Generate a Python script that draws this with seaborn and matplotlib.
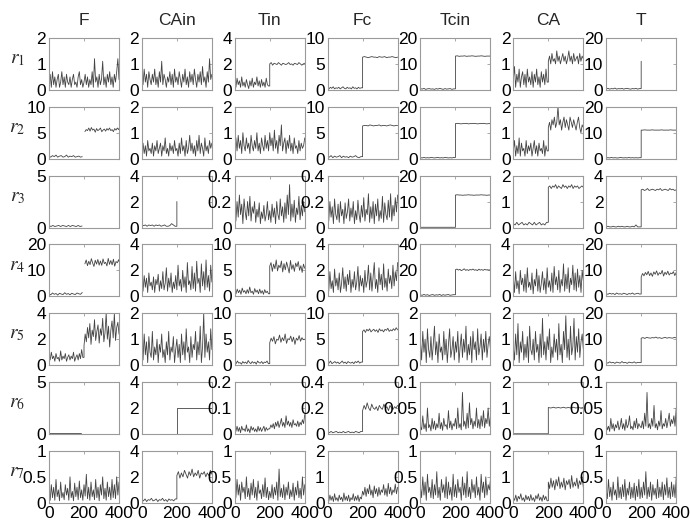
import numpy as np
import matplotlib
matplotlib.use("Agg")
import matplotlib.pyplot as plt
import seaborn as sns

# ---------------- data ----------------
cols = ["F", "CAin", "Tin", "Fc", "Tcin", "CA", "T"]
row_labels = ["$r_1$", "$r_2$", "$r_3$", "$r_4$", "$r_5$", "$r_6$", "$r_7$"]
ymax = [[2, 2, 4, 10, 20, 2, 20],
        [10, 2, 2, 10, 20, 2, 20],
        [5, 4, 0.4, 0.4, 20, 2, 4],
        [20, 4, 10, 4, 40, 4, 20],
        [4, 2, 10, 10, 2, 2, 20],
        [5, 4, 0.2, 0.4, 0.1, 2, 0.1],
        [1, 4, 1, 2, 1, 2, 1]]
x_ticks = [0, 200, 400]

# row 1
r1_F = [0.3,0.6,0.1,0.7,0.2,0.5,0.1,0.4,0.6,0.1,0.3,0.7,0.2,0.5,0.1,0.6,0.3,0.2,0.5,0.1,0.4,0.6,0.2,0.3,0.1,0.5,0.7,0.2,0.4,0.1,0.3,0.6,0.2,0.5,0.1,0.4,0.2,0.7,0.1,1.2,0.3,0.5,0.1,0.6,0.2,0.4,1.1,0.2,0.5,0.1,0.6,0.3,0.7,0.2,0.5,0.1,0.6,0.3,0.7,1.2,0.4]
r1_CAin = [0.5,0.2,0.8,0.3,0.6,0.1,0.7,0.4,0.2,0.6,0.3,0.8,0.2,0.5,0.1,0.7,0.3,1.1,0.2,0.6,0.4,0.1,0.5,0.3,0.7,0.2,0.6,0.1,0.8,0.3,0.5,0.2,0.7,0.4,0.1,0.6,0.3,0.8,0.2,0.5,0.1,0.7,0.3,0.6,0.2,0.8,0.4,0.1,0.6,0.3,0.7,0.2,0.9,0.3,0.5,0.1,0.7,0.3,1.2,0.4,0.6]
r1_Tin_a = [0.6,0.2,0.9,0.4,0.7,0.2,1.0,0.3,0.6,0.2,0.8,0.4,0.1,0.7,0.3,0.9,0.2,0.6,0.4,1.0,0.3,0.7,0.2,0.8,0.3,0.6,0.2,0.9,0.4,0.3]
r1_Tin_b = [2.0,2.1,1.9,2.05,2.0,1.95,2.1,2.0,1.9,2.05,2.0,1.95,2.0,2.1,1.95,2.0,1.9,2.05,2.0,1.95,2.1,2.0,1.9,2.0,2.05]
r1_Fc_a = [0.4,0.2,0.5,0.3,0.6,0.2,0.4,0.3,0.5,0.2,0.4,0.6,0.3,0.2,0.5,0.3,0.4,0.2,0.6,0.3,0.4,0.2,0.5,0.3,0.4]
r1_Fc_b = [6.3,6.4,6.3,6.2,6.3,6.4,6.3,6.3,6.2,6.4,6.3,6.3,6.4,6.2,6.3,6.3,6.4,6.3,6.2,6.3]
r1_Tcin_a = [0.5,0.3,0.6,0.2,0.4,0.5,0.3,0.4,0.2,0.5,0.3,0.6,0.4,0.2,0.5,0.3,0.4,0.5,0.2,0.4]
r1_Tcin_b = [13.0,13.1,12.9,13.0,13.0,13.1,12.9,13.0,13.0,13.1,13.0,12.9,13.0,13.0,13.1,13.0,12.9,13.0,13.0,13.0]
r1_CA_a = [0.4,0.9,0.1,0.6,0.3,0.8,0.1,0.5,0.7,0.2,0.6,0.1,0.8,0.3,0.5,0.2,0.7,0.1,0.6,0.3,0.8,0.2,0.5,0.1,0.7,0.3,0.6,0.2,0.8,0.3]
r1_CA_b = [1.1,1.3,1.0,1.4,1.1,1.2,1.0,1.5,1.1,1.3,1.0,1.2,1.4,1.1,1.3,1.0,1.2,1.5,1.1,1.3,1.0,1.4,1.1,1.2,1.3,1.0,1.4,1.1,1.3,1.2]
r1_T_a = [0.4,0.6,0.3,0.5,0.4,0.7,0.3,0.5,0.4,0.6,0.3,0.5,0.6,0.4,0.3,0.5,0.4,0.6,0.3,0.5]
r1_T_b = [11.0]

# row 2
r2_F_a = [0.5,0.3,0.6,0.4,0.7,0.3,0.5,0.6,0.3,0.4,0.7,0.3,0.5,0.4,0.6,0.3,0.4,0.5,0.3,0.4]
r2_F_b = [5.2,5.6,5.4,5.9,5.3,6.0,5.5,5.7,5.1,5.8,5.4,5.6,5.9,5.2,5.5,5.7,5.3,5.8,5.5,5.9,5.4,5.6,5.2,5.8,5.5,5.9,5.6,6.1]
r2_CAin = [0.3,0.6,0.2,0.5,0.1,0.7,0.3,0.4,0.2,0.6,0.1,0.5,0.3,0.7,0.2,0.4,0.6,0.1,0.5,0.3,0.8,0.2,0.4,0.1,0.6,0.3,0.5,0.2,0.7,0.3,0.4,0.1,0.6,0.2,0.8,0.3,0.5,0.1,0.7,0.2,0.4,0.9,0.3,0.6,0.2,0.5,0.1,0.7,0.3,0.9,0.2,0.6,0.4,0.1,0.8,0.3,0.5,0.2,0.7,0.4,0.6]
r2_Tin = [0.5,0.8,0.3,0.9,0.4,0.7,0.2,1.0,0.5,0.3,0.8,0.4,0.6,0.2,0.9,0.5,0.3,0.7,0.4,1.0,0.3,0.6,0.2,0.8,0.5,0.3,0.9,0.4,0.7,0.3,1.0,0.5,0.8,0.3,1.1,0.4,0.7,0.2,0.9,0.5,1.3,0.3,0.6,0.8,0.2,0.7,0.4,0.9,0.3,0.6,0.2,0.8,0.4,0.5,0.2,0.7,0.3,0.6,0.4,0.5,0.8]
r2_Fc_a = [0.4,0.3,0.6,0.2,0.5,0.3,0.4,0.6,0.2,0.5,0.3,0.4,0.2,0.5,0.3,0.4,0.6,0.3,0.2,0.4]
r2_Fc_b = [6.3,6.4,6.4,6.3,6.5,6.4,6.3,6.4,6.4,6.5,6.3,6.4,6.4,6.3,6.4,6.5,6.4,6.3,6.4,6.4]
r2_Tcin_a = [0.4,0.3,0.5,0.3,0.4,0.3,0.5,0.4,0.3,0.4,0.5,0.3,0.4,0.3,0.5,0.4,0.3,0.4,0.3,0.5]
r2_Tcin_b = [13.5,13.6,13.5,13.4,13.5,13.5,13.6,13.4,13.5,13.5,13.6,13.5,13.4,13.5,13.5,13.6,13.5,13.4,13.5,13.5]
r2_CA_a = [0.3,0.7,0.1,0.5,0.2,0.8,0.1,0.6,0.3,0.4,0.1,0.7,0.2,0.5,0.3,0.6,0.1,0.4,0.7,0.2,0.5,0.1,0.6,0.3,0.4,0.2,0.7,0.1,0.5,0.3]
r2_CA_b = [1.2,1.4,1.1,1.5,1.3,1.6,1.2,1.4,2.0,1.3,1.5,1.1,1.4,1.6,1.2,1.5,1.3,1.1,1.6,1.4,1.2,1.5,1.3,1.1,1.4,1.6,1.2,1.0,1.3,1.2]
r2_T_a = [0.3,0.4,0.3,0.5,0.3,0.4,0.3,0.3,0.5,0.4,0.3,0.4,0.3,0.5,0.3,0.4,0.3,0.4,0.3,0.4]
r2_T_b = [11.0,11.0,11.1,11.0,11.0,11.0,11.1,11.0,11.0,11.0,11.0,11.1,11.0,11.0,11.0,11.0,11.1,11.0,11.0,11.0]

# row 3
r3_F_a = [0.2,0.1,0.2,0.1,0.15,0.2,0.1,0.2,0.15,0.1,0.2,0.1,0.2,0.15,0.1,0.2,0.1,0.15]
r3_F_b = [4.95,4.9,4.95,4.95,4.9,4.95,4.95,4.9,4.95,4.95,4.9,4.95,4.95,4.9,4.95,4.95,4.9,4.95,4.95,4.9]
r3_CAin_a = [0.2,0.15,0.2,0.1,0.2,0.15,0.2,0.1,0.2,0.15,0.2,0.1,0.15,0.2,0.1,0.1,0.15,0.3,0.2,0.1]
r3_CAin_b = [2.0]
r3_Tin = [0.15,0.05,0.2,0.08,0.25,0.1,0.18,0.03,0.22,0.12,0.06,0.2,0.09,0.24,0.05,0.16,0.11,0.2,0.04,0.14,0.08,0.19,0.03,0.12,0.07,0.17,0.05,0.1,0.2,0.06,0.13,0.04,0.18,0.08,0.15,0.03,0.2,0.1,0.06,0.22,0.09,0.16,0.04,0.19,0.07,0.25,0.1,0.33,0.05,0.18,0.08,0.21,0.04,0.15,0.1,0.24,0.06,0.17,0.09,0.2,0.12]
r3_Fc = [0.12,0.05,0.2,0.08,0.16,0.03,0.22,0.1,0.06,0.18,0.04,0.2,0.09,0.14,0.03,0.19,0.07,0.12,0.22,0.05,0.15,0.08,0.2,0.03,0.13,0.06,0.21,0.1,0.04,0.17,0.08,0.23,0.05,0.14,0.1,0.26,0.04,0.16,0.07,0.2,0.03,0.18,0.09,0.22,0.05,0.13,0.07,0.24,0.04,0.19,0.1,0.06,0.21,0.08,0.26,0.05,0.17,0.09,0.23,0.12,0.25]
r3_Tcin_a = [0.1,0.1,0.1,0.1,0.1,0.1,0.1,0.1,0.1,0.1,0.1,0.1,0.1,0.1,0.1,0.1,0.1,0.1,0.1,0.1]
r3_Tcin_b = [12.5,12.6,12.5,12.5,12.4,12.5,12.5,12.6,12.5,12.5,12.4,12.5,12.5,12.5,12.6,12.5,12.5,12.4,12.5,12.5]
r3_CA_a = [0.15,0.1,0.2,0.1,0.15,0.2,0.1,0.15,0.1,0.2,0.15,0.1,0.2,0.1,0.15,0.2,0.1,0.15,0.1,0.2]
r3_CA_b = [1.55,1.6,1.5,1.6,1.55,1.65,1.5,1.6,1.55,1.5,1.65,1.55,1.6,1.5,1.6,1.55,1.65,1.5,1.6,1.55,1.6,1.5,1.55,1.6,1.55]
r3_T_a = [0.05,0.1,0.05,0.05,0.1,0.05,0.05,0.1,0.05,0.1,0.05,0.05,0.1,0.05,0.05,0.1,0.05,0.2,0.05,0.05]
r3_T_b = [2.9,2.95,2.85,2.9,3.0,2.85,2.9,2.95,2.9,2.85,2.95,2.9,3.0,2.85,2.9,2.95,2.9,2.85,3.0,2.9,2.95,2.85,2.9]

# row 4
r4_F_a = [1.0,0.6,1.3,0.8,1.1,0.5,1.2,0.9,0.7,1.4,0.8,1.1,0.6,1.2,0.9,0.7,1.3,1.0,0.8,1.5]
r4_F_b = [12.5,14.0,11.8,13.5,12.2,14.5,12.8,11.5,13.9,12.4,14.2,12.0,13.6,11.9,14.4,12.6,13.1,11.7,14.6,12.3,13.8,12.1,14.3,11.6,13.4,12.9,14.1,12.5]
r4_CAin = [1.2,0.4,1.6,0.7,1.4,0.3,1.8,0.8,1.1,0.5,1.5,0.3,1.3,0.9,1.7,0.4,1.2,0.6,1.9,0.5,1.0,2.2,0.4,1.4,0.7,1.8,0.3,1.1,0.6,1.6,0.5,2.4,0.8,1.3,0.4,2.0,0.7,1.5,0.3,2.6,0.9,1.2,0.5,2.3,0.6,1.8,0.4,2.7,1.0,1.4,0.3,2.5,0.8,1.9,0.5,2.8,0.7,1.6,0.4,2.4,1.1]
r4_Tin_a = [1.0,0.5,1.4,0.7,1.2,0.4,1.6,0.8,1.1,0.5,1.3,0.6,1.8,0.7,1.0,0.4,1.5,0.8,1.2,0.5,1.4,0.6,1.1,0.4,1.3,0.7,1.0,0.5]
r4_Tin_b = [5.8,6.5,4.8,6.2,5.3,7.0,4.9,6.0,5.5,6.8,4.7,6.3,5.1,6.6,5.6,4.5,6.9,5.2,6.1,4.8,6.4,5.7,6.7,5.0,5.9,4.6,6.2,5.4]
r4_Fc = [1.5,0.4,1.9,0.6,1.2,0.3,2.1,0.8,1.4,0.5,1.8,0.3,1.0,2.2,0.6,1.5,0.4,1.7,0.9,2.0,0.3,1.3,0.7,1.9,0.5,1.1,2.3,0.4,1.6,0.8,1.4,0.3,2.0,0.7,1.2,2.4,0.5,1.8,0.4,1.5,2.6,0.6,1.3,0.3,2.2,0.9,1.7,0.5,2.5,0.7,1.4,0.4,2.1,1.0,1.6,0.6,2.4,0.8,1.9,1.2,2.6]
r4_Tcin_a = [1.2,0.8,1.5,0.9,1.3,0.7,1.1,1.4,0.8,1.2,1.0,1.5,0.7,1.3,0.9,1.2,1.4,0.8,1.1,1.3]
r4_Tcin_b = [20.5,21.0,20.2,20.8,19.8,20.4,21.2,20.0,20.6,19.9,20.7,20.3,21.0,20.1,20.5,19.8,20.9,20.2,20.6,20.0,20.8,20.3,20.5,20.1,20.7]
r4_CA = [1.5,0.3,1.9,0.6,1.2,0.2,2.0,0.9,1.4,0.4,1.7,0.3,2.2,0.7,1.1,0.5,1.8,0.2,1.3,0.8,2.1,0.4,1.6,0.3,1.0,1.9,0.5,1.4,0.2,2.2,0.7,1.2,0.4,1.8,0.3,2.3,0.9,1.5,0.5,2.0,0.3,1.3,0.8,2.5,0.4,1.7,0.6,2.2,0.3,1.4,0.9,2.4,0.5,1.8,0.4,2.1,0.7,1.6,0.3,2.0,1.2]
r4_T_a = [1.0,0.8,1.2,0.9,1.1,0.7,1.3,0.9,1.0,0.8,1.2,1.0,0.7,1.1,0.9,1.3,0.8,1.0,1.2,0.9]
r4_T_b = [7.5,8.8,7.9,9.2,8.3,9.6,8.0,9.0,7.7,9.4,8.5,9.8,8.1,9.1,8.6,10.0,7.8,9.3,8.4,9.7,8.2,9.0,8.7,9.5,8.0,9.2]

# row 5
r5_F_a = [0.8,0.4,1.0,0.5,0.7,0.3,0.9,0.5,0.6,0.3,1.1,0.4,0.7,0.5,0.9,0.3,0.6,0.8,0.4,0.7,0.5,1.0,0.3,0.6,0.8,0.4,0.9,0.5,1.2,0.6]
r5_F_b = [1.5,2.4,1.8,2.9,2.1,3.2,1.6,2.7,2.2,3.5,1.9,2.6,3.1,1.7,2.8,2.3,3.6,1.8,2.5,4.0,2.0,3.0,1.4,2.7,3.4,2.1,4.0,1.9,2.9,3.3,2.4]
r5_CAin = [0.8,0.2,1.2,0.4,0.9,0.1,1.1,0.5,0.3,1.3,0.2,0.7,0.4,1.0,0.1,0.8,0.5,1.2,0.3,0.6,0.1,0.9,0.4,1.3,0.2,0.7,0.5,1.1,0.1,0.6,1.0,0.3,0.8,0.1,1.2,0.4,0.9,0.2,1.4,0.5,0.7,0.1,1.1,0.3,0.8,0.6,1.3,0.2,0.9,0.4,1.5,0.1,0.7,2.0,0.3,1.2,0.5,0.9,0.2,1.4,0.6]
r5_Tin_a = [0.6,0.3,0.8,0.4,0.5,0.2,0.7,0.4,0.6,0.3,0.9,0.5,0.3,0.7,0.4,0.6,0.2,0.8,0.5,0.4,0.7,0.3,0.6,0.5,0.8,0.3]
r5_Tin_b = [4.3,5.2,4.6,5.5,4.1,5.0,4.8,5.8,4.4,5.3,4.7,6.0,4.2,5.1,4.9,5.6,4.5,5.4,4.0,5.2,4.8,5.7,4.6,5.3,4.9,5.0]
r5_Fc_a = [0.6,0.4,0.8,0.3,0.5,0.7,0.4,0.6,0.3,0.5,0.8,0.4,0.6,0.3,0.7,0.5,0.4,0.6,0.3,0.7,0.5,0.8,0.4,0.6]
r5_Fc_b = [6.5,6.8,6.3,6.9,6.6,7.0,6.4,6.7,6.9,6.5,6.8,6.3,7.0,6.6,6.8,6.4,6.9,6.7,7.1,6.5,6.8,6.6,7.0,6.7,7.2,6.8]
r5_Tcin = [0.9,0.2,1.3,0.5,1.0,0.1,1.4,0.6,0.3,1.1,0.2,0.8,1.5,0.4,0.9,0.1,1.2,0.5,0.7,0.2,1.3,0.4,1.0,0.1,0.8,1.4,0.3,0.6,1.1,0.2,0.9,0.5,1.3,0.1,0.7,1.2,0.3,1.0,0.5,1.5,0.2,0.8,0.4,1.1,0.1,1.3,0.6,0.9,0.2,1.4,0.4,0.7,1.2,0.2,1.0,0.5,1.3,0.3,0.8,1.1,0.6]
r5_CA = [0.7,0.2,1.2,0.4,1.6,0.1,0.9,0.5,1.3,0.2,0.8,0.3,1.1,0.1,1.5,0.6,0.4,1.0,0.2,1.3,0.5,0.8,0.1,1.2,0.3,1.8,0.4,0.9,0.2,1.1,0.6,1.4,0.1,0.7,0.3,1.2,0.5,1.0,0.2,1.6,0.4,0.8,0.1,1.3,0.6,1.9,0.3,1.0,0.2,1.5,0.4,0.7,1.8,0.2,1.1,0.5,1.4,0.3,0.9,1.2,0.6]
r5_T_a = [1.0,0.8,1.3,0.9,1.1,0.7,1.2,1.0,0.8,1.4,0.9,1.1,0.7,1.2,1.0,0.9,1.3,0.8,1.1,1.0]
r5_T_b = [10.4,10.6,10.3,10.7,10.5,10.4,10.6,10.5,10.8,10.4,10.6,10.3,10.5,10.7,10.4,10.6,10.5,10.4,10.7,10.5]

# row 6
r6_F_a = [0.1,0.1,0.1,0.1,0.1,0.1,0.1,0.1,0.1,0.1]
r6_F_b = [4.97,4.97,4.97,4.97,4.97,4.97,4.97,4.97,4.97,4.97]
r6_CAin_a = [0.02,0.02,0.02,0.02,0.02,0.02,0.02,0.02,0.02,0.02]
r6_CAin_b = [2.0,2.0,2.0,2.0,2.0,2.0,2.0,2.0,2.0,2.0]
r6_Tin = [0.02,0.01,0.03,0.01,0.025,0.005,0.03,0.015,0.02,0.01,0.035,0.01,0.02,0.005,0.03,0.015,0.025,0.01,0.02,0.008,0.03,0.012,0.025,0.01,0.02,0.03,0.01,0.025,0.015,0.02,0.02,0.035,0.025,0.04,0.02,0.045,0.03,0.05,0.025,0.04,0.06,0.03,0.045,0.025,0.07,0.035,0.05,0.03,0.045,0.025,0.055,0.035,0.04,0.03,0.05,0.028,0.045,0.035,0.055,0.04,0.075]
r6_Fc_a = [0.015,0.01,0.02,0.01,0.015,0.02,0.01,0.015,0.01,0.02,0.01,0.015,0.02,0.01,0.015,0.01,0.02,0.015,0.01,0.02]
r6_Fc_b = [0.18,0.22,0.19,0.24,0.2,0.18,0.23,0.2,0.19,0.21,0.18,0.22,0.2,0.19,0.23,0.2,0.21,0.18,0.22,0.2,0.19,0.21,0.2,0.22]
r6_Tcin = [0.015,0.008,0.035,0.01,0.02,0.005,0.05,0.012,0.018,0.006,0.03,0.01,0.025,0.008,0.02,0.012,0.04,0.01,0.022,0.007,0.03,0.015,0.018,0.009,0.045,0.012,0.025,0.008,0.02,0.015,0.03,0.01,0.05,0.012,0.02,0.008,0.08,0.015,0.025,0.01,0.04,0.012,0.06,0.018,0.03,0.01,0.025,0.015,0.05,0.012,0.028,0.01,0.035,0.015,0.045,0.012,0.03,0.02,0.05,0.015,0.035]
r6_CA_a = [0.01,0.01,0.01,0.01,0.01,0.01,0.01,0.01,0.01,0.01]
r6_CA_b = [1.02,1.0,1.03,1.0,1.02,1.0,1.03,1.0,1.02,1.0,1.03,1.0,1.02,1.0,1.02]
r6_T = [0.02,0.008,0.015,0.005,0.03,0.01,0.02,0.006,0.018,0.012,0.025,0.008,0.015,0.03,0.01,0.02,0.007,0.028,0.012,0.018,0.035,0.01,0.015,0.008,0.025,0.012,0.03,0.01,0.02,0.015,0.012,0.025,0.01,0.04,0.015,0.08,0.012,0.02,0.01,0.03,0.015,0.055,0.012,0.02,0.008,0.025,0.015,0.045,0.01,0.02,0.015,0.03,0.012,0.025,0.04,0.015,0.028,0.02,0.035,0.015,0.05]

# row 7
r7_F = [0.2,0.05,0.35,0.1,0.3,0.05,0.45,0.12,0.25,0.04,0.4,0.1,0.2,0.06,0.35,0.15,0.28,0.05,0.5,0.1,0.22,0.04,0.38,0.12,0.3,0.06,0.42,0.1,0.25,0.05,0.35,0.13,0.55,0.08,0.3,0.05,0.4,0.12,0.25,0.06,0.45,0.1,0.3,0.04,0.35,0.15,0.5,0.08,0.28,0.05,0.4,0.12,0.3,0.06,0.45,0.1,0.35,0.08,0.5,0.15,0.4]
r7_CAin_a = [0.25,0.15,0.3,0.1,0.25,0.2,0.35,0.15,0.2,0.3,0.1,0.25,0.2,0.35,0.15,0.25,0.1,0.3,0.2,0.25,0.15,0.3]
r7_CAin_b = [2.1,2.4,1.9,2.3,2.0,2.5,2.2,1.9,2.4,2.1,2.6,2.0,2.3,2.1,2.5,1.9,2.3,2.2,2.4,2.0,2.3,2.1,2.5,2.2]
r7_Tin = [0.3,0.1,0.45,0.15,0.35,0.05,0.4,0.2,0.3,0.08,0.5,0.12,0.28,0.06,0.38,0.15,0.45,0.1,0.3,0.05,0.42,0.18,0.25,0.08,0.35,0.12,0.48,0.1,0.3,0.06,0.22,0.1,0.35,0.08,0.3,0.15,0.4,0.05,0.65,0.12,0.28,0.1,0.35,0.06,0.3,0.15,0.4,0.08,0.25,0.12,0.38,0.05,0.3,0.15,0.42,0.1,0.28,0.08,0.5,0.15,0.35]
r7_Fc = [0.2,0.05,0.3,0.1,0.25,0.05,0.35,0.1,0.2,0.06,0.3,0.12,0.22,0.05,0.38,0.1,0.25,0.08,0.3,0.05,0.2,0.12,0.35,0.08,0.25,0.1,0.3,0.05,0.22,0.15,0.45,0.3,0.6,0.25,0.55,0.35,0.7,0.3,0.5,0.2,0.65,0.35,0.55,0.25,0.6,0.3,0.5,0.4,0.7,0.3,0.55,0.25,0.75,0.35,0.6,0.3,0.5,0.4,0.72,0.35,0.6]
r7_Tcin = [0.3,0.1,0.5,0.15,0.4,0.05,0.55,0.2,0.3,0.1,0.45,0.08,0.35,0.15,0.6,0.1,0.3,0.05,0.45,0.2,0.35,0.1,0.5,0.08,0.4,0.15,0.3,0.05,0.55,0.12,0.35,0.1,0.45,0.2,0.3,0.05,0.5,0.15,0.38,0.1,0.6,0.12,0.3,0.08,0.45,0.2,0.35,0.1,0.5,0.15,0.3,0.05,0.55,0.2,0.4,0.1,0.5,0.15,0.35,0.25,0.45]
r7_CA_a = [0.2,0.1,0.3,0.05,0.25,0.15,0.35,0.1,0.2,0.05,0.3,0.12,0.25,0.08,0.32,0.1,0.2,0.05,0.28,0.15,0.35,0.1,0.22,0.06,0.3,0.12,0.25,0.08]
r7_CA_b = [0.8,0.55,0.95,0.6,0.85,0.5,0.9,0.65,1.0,0.55,0.8,0.6,0.95,0.5,0.85,0.7,0.9,0.55,1.05,0.6,0.8,0.65,0.95,0.55,0.85,0.7,1.0,0.6]
r7_T = [0.25,0.08,0.45,0.12,0.3,0.05,0.4,0.15,0.25,0.06,0.5,0.1,0.3,0.08,0.35,0.12,0.45,0.05,0.28,0.15,0.4,0.08,0.3,0.1,0.38,0.05,0.32,0.12,0.45,0.08,0.3,0.1,0.4,0.15,0.6,0.08,0.3,0.12,0.4,0.05,0.35,0.15,0.28,0.08,0.45,0.1,0.3,0.12,0.4,0.06,0.35,0.15,0.48,0.1,0.3,0.08,0.4,0.12,0.35,0.1,0.5]

# panel table: (series before step, series after step, joined by vertical line)
panels = {
    (0, 0): (r1_F, None, False), (0, 1): (r1_CAin, None, False),
    (0, 2): (r1_Tin_a, r1_Tin_b, True), (0, 3): (r1_Fc_a, r1_Fc_b, True),
    (0, 4): (r1_Tcin_a, r1_Tcin_b, True), (0, 5): (r1_CA_a, r1_CA_b, True),
    (0, 6): (r1_T_a, r1_T_b, True),
    (1, 0): (r2_F_a, r2_F_b, False), (1, 1): (r2_CAin, None, False),
    (1, 2): (r2_Tin, None, False), (1, 3): (r2_Fc_a, r2_Fc_b, True),
    (1, 4): (r2_Tcin_a, r2_Tcin_b, True), (1, 5): (r2_CA_a, r2_CA_b, True),
    (1, 6): (r2_T_a, r2_T_b, True),
    (2, 0): (r3_F_a, r3_F_b, False), (2, 1): (r3_CAin_a, r3_CAin_b, True),
    (2, 2): (r3_Tin, None, False), (2, 3): (r3_Fc, None, False),
    (2, 4): (r3_Tcin_a, r3_Tcin_b, True), (2, 5): (r3_CA_a, r3_CA_b, True),
    (2, 6): (r3_T_a, r3_T_b, True),
    (3, 0): (r4_F_a, r4_F_b, False), (3, 1): (r4_CAin, None, False),
    (3, 2): (r4_Tin_a, r4_Tin_b, True), (3, 3): (r4_Fc, None, False),
    (3, 4): (r4_Tcin_a, r4_Tcin_b, True), (3, 5): (r4_CA, None, False),
    (3, 6): (r4_T_a, r4_T_b, True),
    (4, 0): (r5_F_a, r5_F_b, True), (4, 1): (r5_CAin, None, False),
    (4, 2): (r5_Tin_a, r5_Tin_b, True), (4, 3): (r5_Fc_a, r5_Fc_b, True),
    (4, 4): (r5_Tcin, None, False), (4, 5): (r5_CA, None, False),
    (4, 6): (r5_T_a, r5_T_b, True),
    (5, 0): (r6_F_a, r6_F_b, False), (5, 1): (r6_CAin_a, r6_CAin_b, True),
    (5, 2): (r6_Tin, None, False), (5, 3): (r6_Fc_a, r6_Fc_b, True),
    (5, 4): (r6_Tcin, None, False), (5, 5): (r6_CA_a, r6_CA_b, True),
    (5, 6): (r6_T, None, False),
    (6, 0): (r7_F, None, False), (6, 1): (r7_CAin_a, r7_CAin_b, True),
    (6, 2): (r7_Tin, None, False), (6, 3): (r7_Fc, None, False),
    (6, 4): (r7_Tcin, None, False), (6, 5): (r7_CA_a, r7_CA_b, True),
    (6, 6): (r7_T, None, False),
}

# ---------------- style ----------------
sns.set_style("white")
plt.rcParams["font.family"] = ["Liberation Sans", "DejaVu Sans"]
plt.rcParams["mathtext.fontset"] = "stix"
LINE_C = "#444444"
LW = 0.6
FRAME_C = "#9a9a9a"


def seg(ax, x, y):
    sns.lineplot(x=np.asarray(x, float), y=np.asarray(y, float), ax=ax,
                 color=LINE_C, linewidth=LW, estimator=None, sort=False,
                 legend=False)


def draw(ax, a, b, join):
    if b is None:
        seg(ax, np.linspace(0, 400, len(a)), a)
        return
    xa = np.linspace(0, 200, len(a), endpoint=False)
    xb = np.linspace(200, 400, len(b)) if len(b) > 1 else np.array([200.0])
    if join:
        x = np.concatenate([xa, [200.0], xb])
        y = np.concatenate([a, [a[-1]], b])
        seg(ax, x, y)
    else:
        seg(ax, xa, a)
        seg(ax, xb + (5 if len(b) > 1 else 0), b)


fig, axes = plt.subplots(7, 7, figsize=(6.9, 5.26), dpi=100)
fig.subplots_adjust(left=0.071, right=0.980, top=0.928, bottom=0.044,
                    wspace=0.326, hspace=0.323)

for i in range(7):
    for j in range(7):
        ax = axes[i, j]
        a, b, join = panels[(i, j)]
        draw(ax, a, b, join)
        m = ymax[i][j]
        ax.set_xlim(0, 400)
        ax.set_ylim(0, m)
        yt = [0, m] if m == 5 else [0, m / 2, m]
        ax.set_yticks(yt)
        ax.set_yticklabels([f"{v:g}" for v in yt])
        ax.set_xticks(x_ticks)
        if i == 6:
            ax.set_xticklabels([str(v) for v in x_ticks])
        else:
            ax.set_xticklabels([])
        ax.set_xlabel("")
        ax.set_ylabel("")
        ax.tick_params(direction="in", length=2, width=0.6, color=FRAME_C,
                       top=True, right=True, labelsize=12.5, pad=2,
                       labelcolor="black")
        for s in ax.spines.values():
            s.set_color(FRAME_C)
            s.set_linewidth(0.8)
        if i == 0:
            ax.set_title(cols[j], fontsize=12.5, pad=9)
    pos = axes[i, 0].get_position()
    fig.text(0.025, (pos.y0 + pos.y1) / 2 + 0.008, row_labels[i],
             fontsize=14, ha="center", va="center")

fig.savefig("out.png", dpi=100)
